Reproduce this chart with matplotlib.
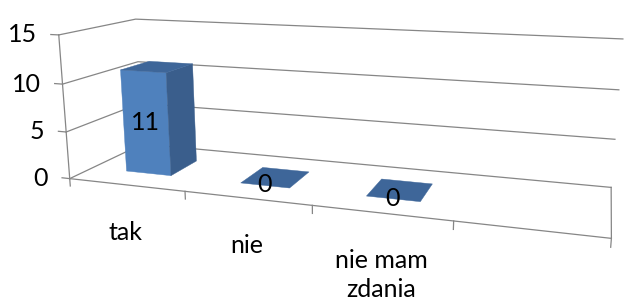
import matplotlib
matplotlib.use('Agg')
import matplotlib.pyplot as plt
from matplotlib.transforms import offset_copy
from mpl_toolkits.mplot3d.art3d import Poly3DCollection

# data
categories = ['tak', 'nie', 'nie mam\nzdania', '']
values = [11, 0, 0]
value_ticks = [0, 5, 10, 15]

plt.rcParams['font.family'] = ['Lato', 'DejaVu Sans']

GRID = '#868686'
FRONT = '#4f81bd'
SIDE = '#3a5e8c'
TOP = '#3e6699'
FS = 18


def bar_faces(x0, y0, w, d, h):
    x1, y1 = x0 + w, y0 + d
    front = [(x0, y0, 0), (x1, y0, 0), (x1, y0, h), (x0, y0, h)]
    side = [(x1, y0, 0), (x1, y1, 0), (x1, y1, h), (x1, y0, h)]
    top = [(x0, y0, h), (x1, y0, h), (x1, y1, h), (x0, y1, h)]
    return front, side, top


fig = plt.figure(figsize=(6.26, 3.04), dpi=100)
ax = fig.add_axes([0.03, 0.12, 1, 1], projection='3d', computed_zorder=False)
ax.set_proj_type('persp', focal_length=0.5)
ax.view_init(elev=13, azim=-72)
n = len(categories)
zmax = value_ticks[-1]
ax.set_xlim(0, n)
ax.set_ylim(0, 1)
ax.set_zlim(0, zmax)
ax.set_box_aspect((4.85, 1.3, 1.36), zoom=1.83)
ax.set_axis_off()

line = dict(color=GRID, lw=0.9, zorder=1, clip_on=False)

# walls: left + back gridlines
for v in value_ticks:
    ax.plot([0, 0, n], [0, 1, 1], [v, v, v], **line)
    ax.plot([-0.07, 0], [0, 0], [v, v], **line)
    ax.text(0, 0, v, str(v), ha='right', va='center', fontsize=FS,
            transform=offset_copy(ax.transData, fig=fig, x=-22, units='dots'))
ax.plot([0, 0], [0, 0], [0, zmax], **line)

# floor front and right edges, category ticks
ax.plot([0, n, n], [0, 0, 1], [0, 0, 0], **line)
for i in range(n + 1):
    ax.plot([i, i], [0, 0], [0, -0.8], **line)

for i, lab in enumerate(categories):
    if lab:
        ax.text(i + 0.5, 0, 0, lab, ha='center', va='top', fontsize=FS,
                linespacing=1.3,
                transform=offset_copy(ax.transData, fig=fig, y=-36, units='dots'))

# bars
bw, bd = 0.4, 0.4
for i, v in enumerate(values):
    x0 = i + (1 - bw) / 2
    y0 = (1 - bd) / 2
    front, side, top = bar_faces(x0, y0, bw, bd, v)
    faces = [(top, TOP)]
    if v > 0:
        faces = [(front, FRONT), (side, SIDE), (top, TOP)]
    for f, c in faces:
        pc = Poly3DCollection([f], facecolor=c, edgecolor=c, lw=0.3, zorder=2)
        pc.set_clip_on(False)
        ax.add_collection3d(pc)
    ax.text(i + 0.5, y0, v / 2, str(v), ha='center', va='center', fontsize=FS, zorder=3)

fig.savefig('out.png', dpi=100)
